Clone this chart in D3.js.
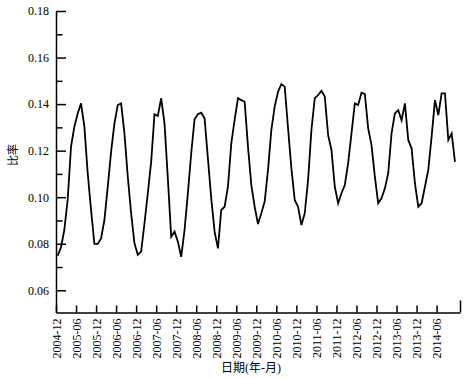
<!DOCTYPE html>
<html>
<head>
<meta charset="utf-8">
<script src="https://cdn.jsdelivr.net/npm/d3@7"></script>
<style>
  html, body { margin: 0; padding: 0; background: #fff; }
  svg { display: block; }
  text { font-family: "Liberation Serif", "Noto Sans CJK SC", serif; fill: #000; }
</style>
</head>
<body>
<svg id="chart" width="470" height="378"></svg>
<script>
// Monthly ratio, 2004-12 .. 2014-11
const startMonth = "2004-12";
const values = [
  0.0749, 0.0785, 0.0860, 0.0990, 0.1217, 0.1303, 0.1360, 0.1403, 0.1303, 0.1103, 0.0945, 0.0799,
  0.0799, 0.0823, 0.0902, 0.1045, 0.1195, 0.1317, 0.1396, 0.1403, 0.1274, 0.1088, 0.0931, 0.0802,
  0.0752, 0.0766, 0.0888, 0.1017, 0.1152, 0.1357, 0.1349, 0.1425, 0.1317, 0.1081, 0.0830, 0.0852,
  0.0809, 0.0744, 0.0859, 0.1017, 0.1189, 0.1335, 0.1357, 0.1363, 0.1339, 0.1167, 0.0995, 0.0852,
  0.0780, 0.0945, 0.0959, 0.1045, 0.1231, 0.1332, 0.1425, 0.1417, 0.1410, 0.1217, 0.1052, 0.0959,
  0.0885, 0.0931, 0.0981, 0.1117, 0.1289, 0.1389, 0.1453, 0.1486, 0.1475, 0.1296, 0.1124, 0.0988,
  0.0959, 0.0880, 0.0931, 0.1074, 0.1289, 0.1425, 0.1439, 0.1457, 0.1432, 0.1267, 0.1203, 0.1045,
  0.0974, 0.1017, 0.1052, 0.1146, 0.1274, 0.1403, 0.1396, 0.1449, 0.1443, 0.1296, 0.1224, 0.1088,
  0.0974, 0.0995, 0.1038, 0.1103, 0.1274, 0.1360, 0.1374, 0.1331, 0.1403, 0.1246, 0.1210, 0.1060,
  0.0959, 0.0974, 0.1045, 0.1117, 0.1260, 0.1417, 0.1353, 0.1446, 0.1446, 0.1246, 0.1274, 0.1152
];
const xTickLabels = [
  "2004-12", "2005-06", "2005-12", "2006-06", "2006-12", "2007-06", "2007-12",
  "2008-06", "2008-12", "2009-06", "2009-12", "2010-06", "2010-12", "2011-06",
  "2011-12", "2012-06", "2012-12", "2013-06", "2013-12", "2014-06"
];
const yTicks = [0.06, 0.08, 0.10, 0.12, 0.14, 0.16, 0.18];
const yMinorTicks = [0.07, 0.09, 0.11, 0.13, 0.15, 0.17];
const xTitle = "日期(年-月)";
const yTitle = "比率";

const svg = d3.select("#chart");
const mLeft = 56, mRight = 460, mTop = 11, mBottom = 312.4;
const monthsSpan = 121;

const x = d3.scaleLinear().domain([0, monthsSpan]).range([mLeft, mRight]);
const y = d3.scaleLinear().domain([0.0505, 0.18]).range([mBottom, mTop]);

const strokeW = 1.5;

// Y axis (major, labelled, ticks pointing inward)
const yAxis = svg.append("g")
  .attr("transform", `translate(${mLeft},0)`)
  .call(d3.axisLeft(y).tickValues(yTicks).tickSize(-10).tickSizeOuter(0)
    .tickPadding(7).tickFormat(d3.format(".2f")));
yAxis.select(".domain").attr("stroke-width", strokeW);
yAxis.selectAll(".tick line").attr("stroke-width", strokeW);
yAxis.selectAll("text").attr("font-size", 12).attr("font-family", "Liberation Serif");

// Y minor ticks
const yMinor = svg.append("g")
  .attr("transform", `translate(${mLeft},0)`)
  .call(d3.axisLeft(y).tickValues(yMinorTicks).tickSize(-6.5).tickSizeOuter(0).tickFormat(""));
yMinor.select(".domain").remove();
yMinor.selectAll(".tick line").attr("stroke-width", strokeW);

// X axis (ticks pointing inward, rotated labels)
const xTickVals = xTickLabels.map((d, i) => i * 6);
const xAxis = svg.append("g")
  .attr("transform", `translate(0,${mBottom})`)
  .call(d3.axisBottom(x).tickValues(xTickVals).tickSize(-7).tickSizeOuter(0)
    .tickFormat((d, i) => xTickLabels[i]));
xAxis.select(".domain").attr("stroke-width", strokeW);
xAxis.selectAll(".tick line").attr("stroke-width", strokeW);
xAxis.selectAll("text")
  .attr("font-size", 12)
  .attr("font-family", "Liberation Serif")
  .attr("transform", "rotate(-90)")
  .attr("x", -6)
  .attr("y", 0)
  .attr("dy", "0.35em")
  .attr("text-anchor", "end");

// end tick at right of x axis
const xEnd = svg.append("g")
  .attr("transform", `translate(0,${mBottom})`)
  .call(d3.axisBottom(x).tickValues([monthsSpan]).tickSize(-12).tickSizeOuter(0).tickFormat(""));
xEnd.select(".domain").remove();
xEnd.selectAll(".tick line").attr("stroke-width", strokeW);

// Line
const line = d3.line()
  .x((d, i) => x(i + 0.5))
  .y(d => y(d));
svg.append("path")
  .datum(values)
  .attr("fill", "none")
  .attr("stroke", "#000")
  .attr("stroke-width", 1.8)
  .attr("stroke-linejoin", "miter")
  .attr("d", line);

// Titles
svg.append("text")
  .attr("x", 251)
  .attr("y", 372)
  .attr("text-anchor", "middle")
  .attr("font-size", 12)
  .text(xTitle);

svg.append("text")
  .attr("transform", "translate(13,155) rotate(-90)")
  .attr("text-anchor", "middle")
  .attr("dy", "0.35em")
  .attr("font-size", 11)
  .text(yTitle);
</script>
</body>
</html>
